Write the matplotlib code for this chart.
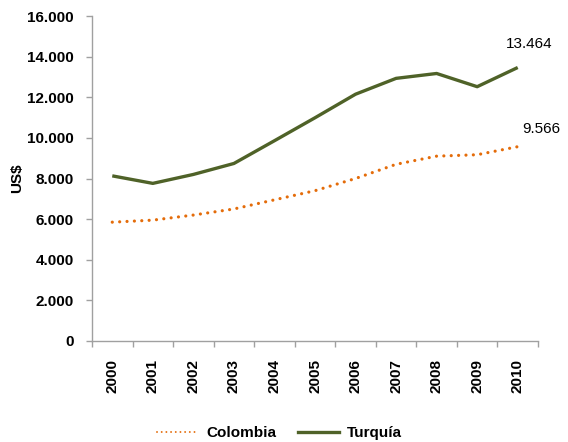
import matplotlib
matplotlib.use("Agg")
import matplotlib.pyplot as plt
from matplotlib.ticker import FuncFormatter, FixedLocator
from matplotlib.lines import Line2D

plt.rcParams['font.family'] = ['Liberation Sans', 'DejaVu Sans']

years = ["2000", "2001", "2002", "2003", "2004", "2005", "2006", "2007", "2008", "2009", "2010"]
colombia = [5850, 5950, 6200, 6500, 6950, 7400, 8000, 8700, 9100, 9170, 9566]
turquia = [8130, 7760, 8200, 8740, 9860, 10990, 12150, 12930, 13170, 12520, 13464]
label_colombia = "9.566"
label_turquia = "13.464"

c_col = "#E46C0A"
c_tur = "#4F6228"

fig = plt.figure(figsize=(5.68, 4.42), dpi=100)
ax = fig.add_axes([92/568, 1-341/442, (538-92)/568, (341-16)/442])

x = list(range(len(years)))
ax.plot(x, colombia, color=c_col, linewidth=2.3, linestyle=(0, (0.01, 2.3)),
        dash_capstyle='round', label="Colombia")
ax.plot(x, turquia, color=c_tur, linewidth=2.4, solid_capstyle='butt', label="Turquía")

ax.set_xlim(-0.5, len(years) - 0.5)
ax.set_ylim(0, 16000)
ax.set_yticks(range(0, 16001, 2000))
ax.yaxis.set_major_formatter(FuncFormatter(lambda v, p: f"{int(v):,}".replace(",", ".")))
ax.set_xticks(x)
ax.set_xticklabels(years, rotation=90, fontweight='bold', fontsize=11)
ax.xaxis.set_minor_locator(FixedLocator([i - 0.5 for i in range(len(years) + 1)]))
ax.tick_params(axis='x', which='major', length=0, pad=13)
ax.tick_params(axis='x', which='minor', length=4, color='#A0A0A0', width=1)
ax.tick_params(axis='y', length=4, color='#A0A0A0', width=1, pad=9, labelsize=11)
for lab in ax.get_yticklabels():
    lab.set_fontweight('bold')

for s in ['top', 'right']:
    ax.spines[s].set_visible(False)
for s in ['left', 'bottom']:
    ax.spines[s].set_color('#A0A0A0')
    ax.spines[s].set_linewidth(1)

ax.annotate(label_turquia, xy=(x[-1], turquia[-1]), xytext=(8, 12), textcoords='offset points',
            ha='center', va='bottom', fontsize=11)
ax.annotate(label_colombia, xy=(x[-1], colombia[-1]), xytext=(17, 8), textcoords='offset points',
            ha='center', va='bottom', fontsize=11)

fig.text(17.5/568, 1-178.5/442, "US$", rotation=90, ha='center', va='center',
         fontweight='bold', fontsize=11)

handles = [
    Line2D([], [], color=c_col, linewidth=1.4, linestyle=(0, (0.01, 2.4)), dash_capstyle='round'),
    Line2D([], [], color=c_tur, linewidth=2.4),
]
leg = fig.legend(handles, ["Colombia", "Turquía"], loc='center',
                 bbox_to_anchor=(279.5/568, 1-433/442), ncol=2, frameon=False,
                 prop={'weight': 'bold', 'size': 11}, handlelength=2.7, handletextpad=0.5,
                 columnspacing=1.4, borderaxespad=0)

fig.savefig("out.png", dpi=100)
